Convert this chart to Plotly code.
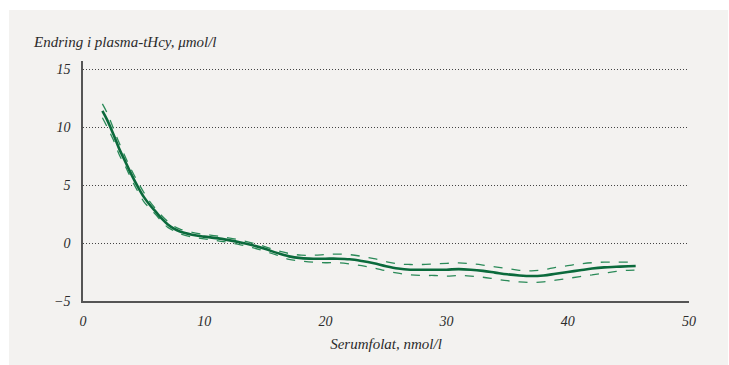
import plotly.graph_objects as go

# Serum folate (nmol/l)
x_vals = [1.6, 2, 2.5, 3, 3.5, 4, 4.5, 5, 5.5, 6, 6.5, 7, 7.5, 8, 9, 10, 11, 12, 13, 14,
          15, 16, 17, 18, 19, 20, 21, 22, 23, 24, 25, 26, 27, 28, 29, 30, 31, 32, 33, 34,
          35, 36, 37, 38, 39, 40, 41, 42, 43, 44, 45, 45.6]
# Change in plasma tHcy (µmol/l)
est = [11.4, 10.6, 9.4, 8.1, 7.0, 5.9, 4.9, 4.0, 3.3, 2.7, 2.1, 1.6, 1.25, 1.0, 0.72, 0.55, 0.42, 0.25, 0.05, -0.2,
       -0.5, -0.85, -1.15, -1.3, -1.35, -1.35, -1.35, -1.4, -1.55, -1.75, -2.0, -2.2, -2.3, -2.3, -2.3, -2.3, -2.25, -2.3, -2.4, -2.55,
       -2.7, -2.8, -2.85, -2.8, -2.65, -2.5, -2.35, -2.2, -2.1, -2.05, -2.0, -1.98]
upper = [12.0, 11.2, 9.9, 8.6, 7.4, 6.3, 5.3, 4.4, 3.6, 2.95, 2.35, 1.85, 1.45, 1.2, 0.92, 0.75, 0.62, 0.45, 0.25, 0.0,
         -0.3, -0.65, -0.9, -1.05, -1.05, -1.0, -0.95, -1.0, -1.15, -1.35, -1.6, -1.8, -1.85, -1.85, -1.8, -1.75, -1.72, -1.78, -1.9, -2.05,
         -2.2, -2.35, -2.4, -2.3, -2.1, -1.95, -1.8, -1.7, -1.65, -1.65, -1.65, -1.64]
lower = [10.8, 10.0, 8.9, 7.6, 6.6, 5.5, 4.5, 3.6, 3.0, 2.45, 1.85, 1.35, 1.05, 0.8, 0.52, 0.35, 0.22, 0.05, -0.15, -0.4,
         -0.7, -1.05, -1.4, -1.55, -1.65, -1.7, -1.7, -1.8, -1.95, -2.15, -2.4, -2.6, -2.75, -2.8, -2.8, -2.85, -2.8, -2.85, -2.95, -3.1,
         -3.25, -3.35, -3.4, -3.35, -3.2, -3.05, -2.9, -2.75, -2.6, -2.45, -2.35, -2.33]

x_ticks = [0, 10, 20, 30, 40, 50]
y_ticks = [-5, 0, 5, 10, 15]

y_title = "Endring i plasma-tHcy, μmol/l"
x_title = "Serumfolat, nmol/l"

GREEN = "#0b6a3c"
GREEN_CI = "#2a8a58"
FONT = "Liberation Serif"
TXT = "#2b2b2b"

fig = go.Figure()
fig.add_trace(go.Scatter(x=x_vals, y=upper, mode="lines", line=dict(color=GREEN_CI, width=1.3, dash="dash", shape="spline"), hoverinfo="skip"))
fig.add_trace(go.Scatter(x=x_vals, y=lower, mode="lines", line=dict(color=GREEN_CI, width=1.3, dash="dash", shape="spline"), hoverinfo="skip"))
fig.add_trace(go.Scatter(x=x_vals, y=est, mode="lines", line=dict(color=GREEN, width=2.6, shape="spline")))

PW, PH = 606, 240
# grey background panel
fig.add_shape(type="rect", xref="paper", yref="paper", x0=-74 / PW, x1=1 + 39 / PW, y0=-64 / PH, y1=1 + 51 / PH,
              fillcolor="#f3f2f0", line=dict(width=0), layer="below")

fig.update_layout(
    width=729, height=365,
    margin=dict(l=83, r=40, t=61, b=64),
    paper_bgcolor="white", plot_bgcolor="rgba(0,0,0,0)",
    showlegend=False,
    font=dict(family=FONT, size=14, color=TXT, style="italic"),
    xaxis=dict(range=[0, 50], tickvals=x_ticks, showgrid=False, zeroline=False,
               showline=True, linecolor="#555555", linewidth=1.5,
               ticks="outside", ticklen=6, tickcolor="rgba(0,0,0,0)",
               tickfont=dict(family=FONT, size=14, color=TXT, style="italic"),
               title=dict(text=x_title, font=dict(family=FONT, size=15, color=TXT, style="italic"), standoff=11)),
    yaxis=dict(range=[-5, 15.7], tickvals=y_ticks, showgrid=True, gridcolor="#444444",
               griddash="1px,2px", gridwidth=1, zeroline=False,
               showline=True, linecolor="#555555", linewidth=1.5,
               ticks="outside", ticklen=8, tickcolor="rgba(0,0,0,0)",
               tickfont=dict(family=FONT, size=14, color=TXT, style="italic")),
    annotations=[dict(text=y_title, xref="paper", yref="paper", x=-52 / PW, y=1 + 19 / PH,
                      xanchor="left", yanchor="middle", showarrow=False,
                      font=dict(family=FONT, size=15, color=TXT, style="italic"))],
)

fig.write_html("out.html", config={"displayModeBar": False},
               post_script="document.body.style.margin='0';document.body.style.overflow='hidden';")
